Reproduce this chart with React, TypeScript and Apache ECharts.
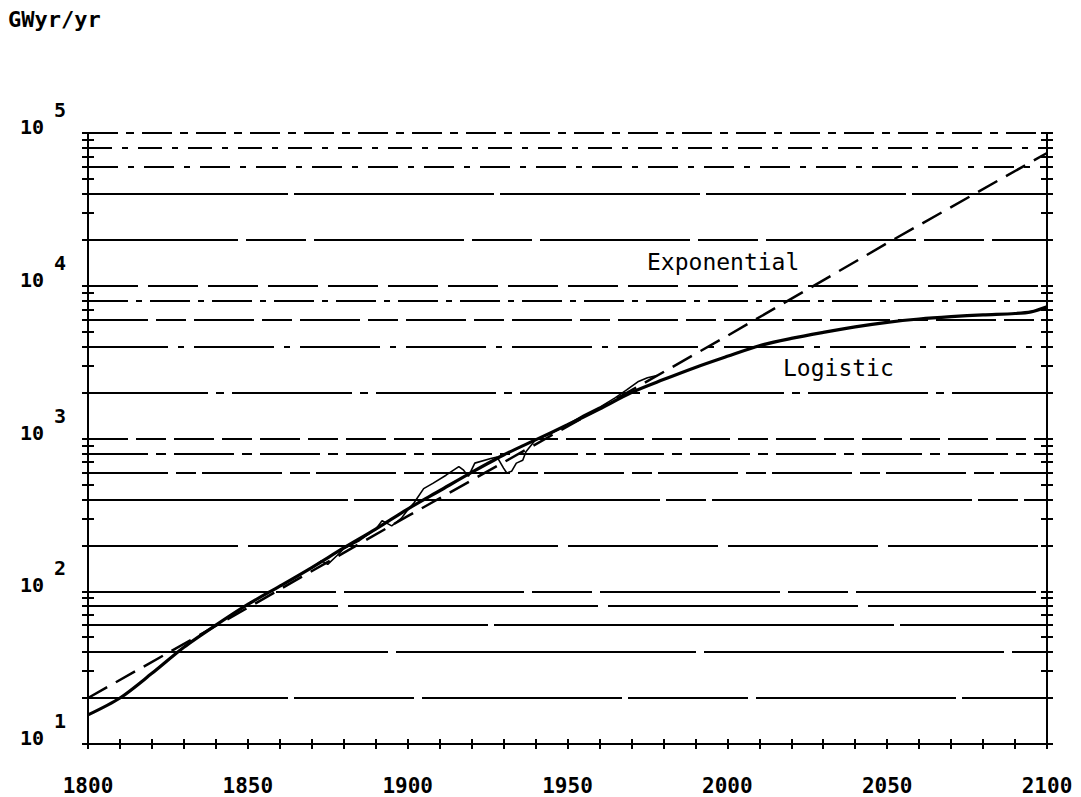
import React, { useEffect, useRef } from "react";
import * as echarts from "echarts";

// ---- data ----
const yearLabels = [1800, 1850, 1900, 1950, 2000, 2050, 2100];
const decadeValues = [10, 100, 1000, 10000, 100000];
const decadeExponents = ["1", "2", "3", "4", "5"];
const minorTickValues = [
  10, 20, 30, 40, 50, 60, 70, 80, 90,
  100, 200, 300, 400, 500, 600, 700, 800, 900,
  1000, 2000, 3000, 4000, 5000, 6000, 7000, 8000, 9000,
  10000, 20000, 30000, 40000, 50000, 60000, 70000, 80000, 90000, 100000,
];
const gridLineValues = [
  20, 40, 60, 80, 100, 200, 400, 600, 800, 1000,
  2000, 4000, 6000, 8000, 10000, 20000, 40000, 60000, 80000, 100000,
];

const exponentialYears = [1800, 1850, 1900, 1950, 2000, 2050, 2100];
const exponentialValues = [20, 78, 310, 1200, 4700, 19000, 74000];

const logisticYears = [
  1800, 1810, 1820, 1830, 1840, 1850, 1860, 1870, 1880, 1890, 1900, 1910,
  1920, 1930, 1940, 1950, 1960, 1970, 1980, 1990, 2000, 2010, 2020, 2030,
  2040, 2050, 2060, 2070, 2080, 2090, 2095, 2100,
];
const logisticValues = [
  15.5, 20, 29, 43, 60, 82, 108, 143, 192, 255, 345, 455,
  600, 780, 980, 1230, 1560, 2000, 2430, 2920, 3450, 4050, 4520, 4950,
  5380, 5760, 6060, 6280, 6450, 6580, 6750, 7300,
];

const historicYears = [
  1870, 1873, 1875, 1878, 1880, 1885, 1890, 1892, 1895, 1898, 1900, 1902,
  1905, 1908, 1912, 1916, 1917.5, 1919, 1921, 1926, 1928, 1930, 1931,
  1932.5, 1934, 1936, 1937, 1940, 1945, 1950, 1955, 1960, 1965, 1968.5,
  1972, 1975, 1978,
];
const historicValues = [
  142, 158, 150, 172, 190, 215, 255, 290, 268, 300, 340, 380,
  470, 510, 575, 655, 620, 565, 690, 740, 755, 640, 595,
  610, 690, 720, 820, 980, 1080, 1230, 1420, 1600, 1850, 2080,
  2350, 2500, 2580,
];

const gridDash: number[][] = [
  [200, 6, 120, 8], [300, 8], [400, 6], [250, 10], [180, 8, 60, 8],
  [150, 10], [260, 6, 40, 6], [80, 8, 20, 6], [60, 8, 10, 8], [40, 8, 30, 8],
  [120, 8, 8, 8], [80, 10, 6, 10], [60, 8, 30, 8], [40, 8, 6, 8], [50, 10],
  [150, 8, 60, 8], [200, 6], [30, 10, 6, 10], [24, 10, 6, 10], [30, 8, 8, 8],
];

const MONO = "DejaVu Sans Mono";

export default function App() {
  const ref = useRef<HTMLDivElement>(null);

  useEffect(() => {
    if (!ref.current) return;
    const chart = echarts.init(ref.current, null, { renderer: "svg" });

    const pairs = (xs: number[], ys: number[]) => xs.map((x, i) => [x, ys[i]]);

    const yBase = (position: "left" | "right", inside: boolean, showLabel: boolean) => ({
      type: "log",
      logBase: 10,
      min: 10,
      max: 100000,
      position,
      axisLine: { show: true, lineStyle: { color: "#000", width: 2 } },
      axisTick: {
        show: true,
        inside,
        length: 6,
        customValues: minorTickValues,
        lineStyle: { color: "#000", width: 2 },
      },
      splitLine: { show: false },
      axisLabel: showLabel
        ? {
            show: true,
            margin: 22,
            align: "right",
            formatter: (v: number) => {
              const idx = decadeValues.findIndex((d) => Math.abs(d - v) / d < 1e-6);
              return idx >= 0 ? `{a|10}{b|${decadeExponents[idx]}}` : "";
            },
            rich: {
              a: {
                fontFamily: MONO,
                fontWeight: "bold",
                fontSize: 20,
                color: "#000",
                padding: [0, 0, 12, 0],
              },
              b: {
                fontFamily: MONO,
                fontWeight: "bold",
                fontSize: 20,
                color: "#000",
                padding: [0, 0, 46, 10],
              },
            },
          }
        : { show: false },
    });

    const xBase = (inside: boolean, showLabel: boolean) => ({
      type: "value",
      min: 1800,
      max: 2100,
      interval: 10,
      position: "bottom",
      axisLine: { show: true, lineStyle: { color: "#000", width: 2 } },
      axisTick: { show: true, inside, length: 5, lineStyle: { color: "#000", width: 2 } },
      splitLine: { show: false },
      axisLabel: showLabel
        ? {
            show: true,
            margin: 31,
            fontFamily: MONO,
            fontWeight: "bold",
            fontSize: 21,
            color: "#000",
            formatter: (v: number) => (yearLabels.includes(v) ? String(v) : ""),
          }
        : { show: false },
    });

    chart.setOption({
      animation: false,
      backgroundColor: "#fff",
      grid: { left: 88, right: 34, top: 133, bottom: 53, containLabel: false },
      xAxis: [xBase(false, true), xBase(true, false)],
      yAxis: [
        yBase("left", false, true),
        yBase("left", true, false),
        yBase("right", false, false),
        yBase("right", true, false),
      ],
      graphic: [
        {
          type: "text",
          left: 8,
          top: 8,
          style: { text: "GWyr/yr", fontFamily: MONO, fontWeight: "bold", fontSize: 22, fill: "#000" },
        },
        {
          type: "text",
          x: 647,
          y: 262,
          style: {
            text: "Exponential",
            fontFamily: MONO,
            fontSize: 23,
            fill: "#000",
            textVerticalAlign: "middle",
          },
        },
        {
          type: "text",
          x: 783,
          y: 368,
          style: {
            text: "Logistic",
            fontFamily: MONO,
            fontSize: 23,
            fill: "#000",
            textVerticalAlign: "middle",
          },
        },
      ],
      series: [
        {
          name: "Exponential",
          type: "line",
          xAxisIndex: 0,
          yAxisIndex: 0,
          data: pairs(exponentialYears, exponentialValues),
          showSymbol: false,
          symbol: "none",
          lineStyle: { color: "#000", width: 2.5, type: [22, 10] },
          z: 3,
          markLine: {
            silent: true,
            symbol: ["none", "none"],
            label: { show: false },
            z: 1,
            data: gridLineValues.map((v, i) => ({
              yAxis: v,
              lineStyle: { color: "#000", width: 2, type: gridDash[i % gridDash.length] },
            })),
          },
        },
        {
          name: "Logistic",
          type: "line",
          xAxisIndex: 0,
          yAxisIndex: 0,
          data: pairs(logisticYears, logisticValues),
          showSymbol: false,
          symbol: "none",
          smooth: 0.3,
          lineStyle: { color: "#000", width: 3.2 },
          z: 4,
        },
        {
          name: "Historic",
          type: "line",
          xAxisIndex: 0,
          yAxisIndex: 0,
          data: pairs(historicYears, historicValues),
          showSymbol: false,
          symbol: "none",
          lineStyle: { color: "#000", width: 1.6 },
          z: 5,
        },
      ],
    });

    return () => chart.dispose();
  }, []);

  return (
    <div
      ref={ref}
      style={{ position: "fixed", left: 0, top: 0, width: 1081, height: 797, background: "#fff" }}
    />
  );
}
